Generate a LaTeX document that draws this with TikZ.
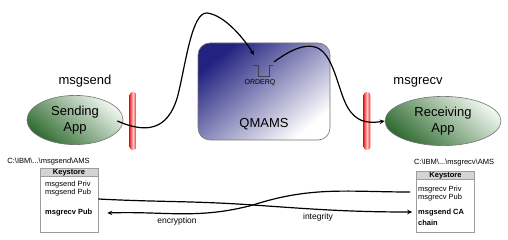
\documentclass[tikz,border=0pt]{standalone}
\usepackage{fontspec}
\setmainfont{Liberation Sans}
\usetikzlibrary{arrows.meta,shapes.geometric,positioning,calc}
\definecolor{appgreen}{RGB}{50,108,50}
\definecolor{applight}{RGB}{238,246,238}
\definecolor{qblue}{RGB}{34,34,128}
\definecolor{barred}{RGB}{238,40,40}
\definecolor{barpink}{RGB}{255,200,200}
\definecolor{rim}{RGB}{115,115,115}
\definecolor{headgray}{RGB}{212,212,212}

\begin{document}
\begin{tikzpicture}[x=1pt,y=-1pt]

		\tikzset{line/.style={draw,line width=1.2pt}}
		\tikzset{arrow/.style={line,-{Stealth[length=5pt,width=4.5pt]}}}
		\tikzset{bigtext/.style={font=\fontsize{13}{16}\selectfont,align=center}}
		\tikzset{keytext/.style={font=\fontsize{7.5}{9}\selectfont,inner sep=0pt}}
		\tikzset{app/.style={ellipse,draw=rim,line width=0.6pt,bigtext,top color=applight,bottom color=appgreen,shading angle=-40}}
		\tikzset{bar/.style={rounded corners=3pt,minimum width=6pt,minimum height=58pt,left color=barred,right color=barred,middle color=barpink}}
		\tikzset{keybox/.style={draw=rim!70,line width=0.6pt,fill=white,minimum width=58pt}}
		\tikzset{keyhead/.style={draw=rim!70,line width=0.6pt,fill=headgray,minimum width=58pt,minimum height=8.5pt,inner sep=0pt,font=\fontsize{7.5}{9}\selectfont\bfseries}}

		\useasboundingbox (0,0) rectangle (508,240);

		% queue manager
		\node[draw=rim,line width=0.6pt,rounded corners=12pt,minimum width=132pt,minimum height=97pt,top color=qblue,bottom color=white,shading angle=40] (qm) at (264,91.5) {};
		\node[bigtext] (qmams) at (264,124) {QMAMS};
		\node[keytext,font=\fontsize{7}{8}\selectfont] (orderq) at (260,83) {ORDERQ};
		\draw[black!75,line width=0.7pt] (253,65) -- (258,65) -- (258,76) -- (269,76) -- (269,65) -- (273,65);
		\coordinate (qin) at (254,55);
		\coordinate (qout) at (274,62);

		% applications
		\node[app,minimum width=96pt,minimum height=46pt] (send) at (75,120) {Sending\\App};
		\node[app,minimum width=116pt,minimum height=44pt] (recv) at (443,121) {Receiving\\App};
		\node[bigtext] (sendname) at (85,81) {msgsend};
		\node[bigtext] (recvname) at (418,82) {msgrecv};
		\node[bar] (barL) at (133,121) {};
		\node[bar] (barR) at (367,121) {};
		\coordinate (sendout) at ($(send.east)+(-6,1)$);

		\path[line] (sendout) .. controls (145,133) and (168,132) .. (178,95)
			.. controls (186,62) and (192,12) .. (207,13);
		\path[arrow] (207,13) .. controls (225,15) and (245,40) .. (qin);
		\path[arrow] (qout) .. controls (290,50) and (304,44) .. (315,47)
			.. controls (334,52) and (338,92) .. (348,108)
			.. controls (356,121) and (366,124) .. (recv.west);

		% keystores
		\node[keybox,minimum height=64pt] (ksL) at (69,200) {};
		\node[keyhead,anchor=north] (ksLhead) at (ksL.north) {Keystore};
		\node[keybox,minimum height=61pt] (ksR) at (445.5,201.5) {};
		\node[keyhead,anchor=north] (ksRhead) at (ksR.north) {Keystore};

		\node[keytext] (pathL) at (48.5,162) {C:\textbackslash IBM\textbackslash ...\textbackslash msgsend\textbackslash AMS};
		\node[keytext] (pathR) at (454,163) {C:\textbackslash IBM\textbackslash ...\textbackslash msgrecv\textbackslash AMS};

		\node[keytext,anchor=west] (privL) at (45,185) {msgsend Priv};
		\node[keytext,anchor=west] (pubL) at (45,193) {msgsend Pub};
		\node[keytext,anchor=west,font=\fontsize{7.5}{9}\selectfont\bfseries] (otherL) at (45,213) {msgrecv Pub};

		\node[keytext,anchor=west] (privR) at (418,190) {msgrecv Priv};
		\node[keytext,anchor=west] (pubR) at (418,198) {msgrecv Pub};
		\node[keytext,anchor=west,font=\fontsize{7.5}{9}\selectfont\bfseries] (caR) at (418,213) {msgsend CA};
		\node[keytext,anchor=west,font=\fontsize{7.5}{9}\selectfont\bfseries] (chainR) at (418,223) {chain};

		\coordinate (cross) at (253,205);
		\coordinate (encR) at ($(ksR.west)+(-6,-9.5)$);
		\coordinate (encL) at ($(ksL.east)+(9,13)$);
		\coordinate (intL) at ($(ksL.east)+(0,-1)$);
		\coordinate (intR) at ($(ksR.west)+(-4,10.5)$);

		\path[arrow] (encR) to[out=180,in=18] (cross) to[out=195,in=2] (encL);
		\path[arrow] (intL) to[out=-3,in=176] (cross) to[out=-4,in=180] (intR);

		\node[font=\fontsize{8.5}{10}\selectfont] (enc) at (177,221) {encryption};
		\node[font=\fontsize{8.5}{10}\selectfont] (integ) at (318,217) {integrity};

\end{tikzpicture}
\end{document}
